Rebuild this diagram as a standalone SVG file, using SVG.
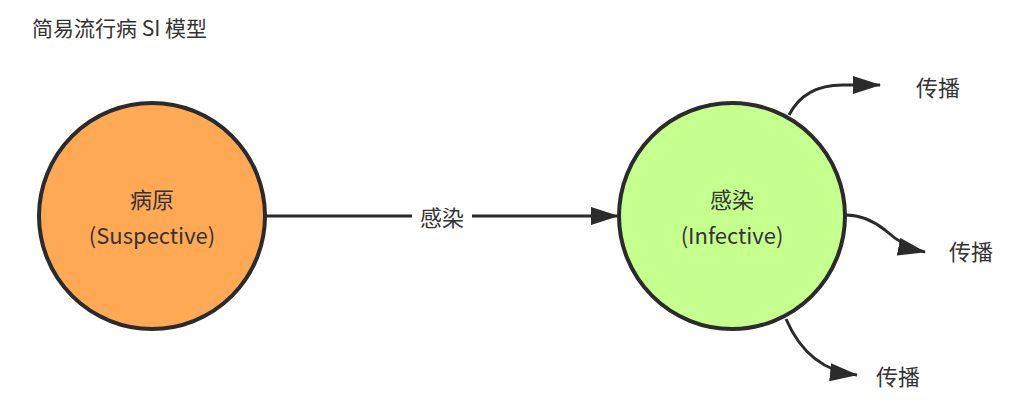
<svg xmlns="http://www.w3.org/2000/svg" width="1024" height="412" viewBox="0 0 1024 412">
<style>
text{font-family:"PingFang SC","Noto Sans CJK SC",sans-serif;fill:#333}
.c{stroke:#2b2b2b;stroke-width:4}
.e{fill:none;stroke:#2b2b2b;stroke-width:3}
.t{font-size:22px;text-anchor:middle}
</style>
<defs><marker id="a" markerWidth="10" markerHeight="8" refX="9" refY="4" orient="auto" markerUnits="userSpaceOnUse" viewBox="0 0 10 8"><path d="M0,0 L10,4 L0,8 z" fill="#2b2b2b"/></marker>
<marker id="b" markerWidth="28" markerHeight="18" refX="27" refY="9" orient="auto" markerUnits="userSpaceOnUse"><path d="M0,0 L28,9 L0,18 z" fill="#2b2b2b"/></marker></defs>
<text x="32" y="36" font-size="21">简易流行病 SI 模型</text>
<g id="connectors">
<path class="e" d="M266,216 L618,216" marker-end="url(#b)"/>
<rect x="412" y="204" width="60" height="26" fill="#fff"/>
<text class="t" x="442" y="226" font-size="21">感染</text>
<path class="e" d="M789,115 Q805,84 845,85 L880,85" marker-end="url(#b)"/>
<path class="e" d="M846,215 Q866,215 885,230 Q905,248 925,252" marker-end="url(#b)"/>
<path class="e" d="M786,319 Q808,370 857,375" marker-end="url(#b)"/>
</g>
<g id="pathogen"><circle class="c" cx="152" cy="216" r="113" fill="#ffa955"/>
<text class="t" x="152" y="208">病原</text><text class="t" x="152" y="244">(Suspective)</text></g>
<g id="infected"><circle class="c" cx="732" cy="216" r="113" fill="#c5ff8d"/>
<text class="t" x="732" y="208">感染</text><text class="t" x="732" y="244">(Infective)</text></g>
<g id="s1"><text class="t" x="938" y="96">传播</text></g>
<g id="s2"><text class="t" x="971" y="260">传播</text></g>
<g id="s3"><text class="t" x="898" y="385">传播</text></g>
</svg>
